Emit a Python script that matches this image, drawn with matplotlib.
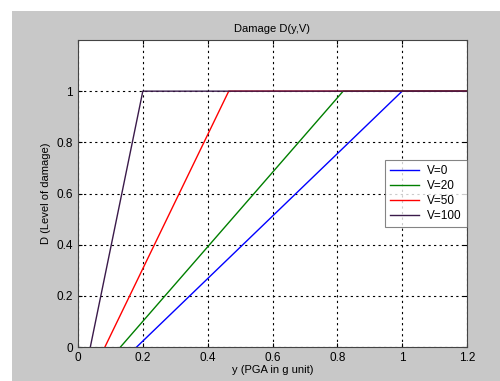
import numpy as np
import matplotlib.pyplot as plt
from matplotlib.patches import Rectangle

plt.rcParams['font.family'] = ['Liberation Sans', 'DejaVu Sans']

# damage curves: start of ramp (D=0) and where D reaches 1
labels = ['V=0', 'V=20', 'V=50', 'V=100']
y_start = [0.181, 0.131, 0.083, 0.038]
y_full = [1.0, 0.818, 0.465, 0.2]
colors = ['#0000ff', '#007f00', '#ff0000', '#3a1a4a']
y_max = 1.2

fig = plt.figure(figsize=(5.0, 3.81), dpi=100)
fig.patch.set_facecolor('white')
# gray matlab-ish panel
fig.add_artist(Rectangle((12/500, 0), 1, 1 - 11/381, transform=fig.transFigure,
                         facecolor='#c8c8c8', edgecolor='none', zorder=-10))

ax = fig.add_axes([78/500, 1 - 347/381, (467-78)/500, (347-40)/381])
ax.set_facecolor('white')

for lab, a, b, c in zip(labels, y_start, y_full, colors):
    ax.plot([a, b, y_max], [0, 1, 1], color=c, lw=1.0, label=lab)

ax.set_xlim(0, 1.2)
ax.set_ylim(0, 1.2)
ax.set_xticks([0, 0.2, 0.4, 0.6, 0.8, 1, 1.2])
ax.set_xticklabels(['0', '0.2', '0.4', '0.6', '0.8', '1', '1.2'])
ax.set_yticks([0, 0.2, 0.4, 0.6, 0.8, 1])
ax.set_yticklabels(['0', '0.2', '0.4', '0.6', '0.8', '1'])
ax.grid(True, color='black', linestyle=(0, (2, 3)), lw=0.8)
ax.tick_params(direction='in', top=True, right=True, labelsize=8.5, length=3)
for s in ax.spines.values():
    s.set_color('#444444')

ax.set_title('Damage D(y,V)', fontsize=8, pad=6)
ax.set_xlabel('y (PGA in g unit)', fontsize=8, labelpad=1)
ax.set_ylabel('D (Level of damage)', fontsize=8, labelpad=4)

leg = ax.legend(loc='center right', fontsize=8.5, fancybox=False,
                handlelength=2.4, handletextpad=0.7, borderpad=0.45,
                labelspacing=0.25, borderaxespad=0.0)
leg.get_frame().set_edgecolor('#666666')
leg.get_frame().set_linewidth(0.8)

fig.savefig('out.png', dpi=100)
